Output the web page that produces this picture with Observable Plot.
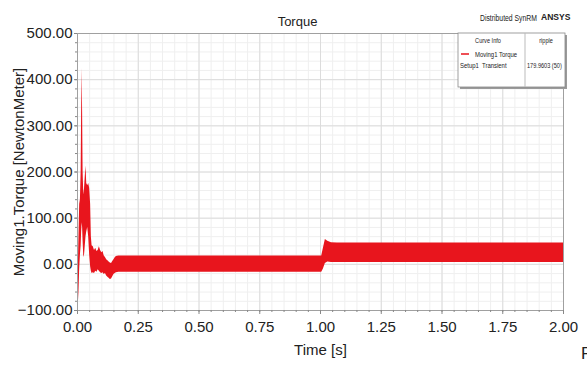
<!DOCTYPE html>
<html>
<head>
<meta charset="utf-8">
<script src="https://cdn.jsdelivr.net/npm/d3@7"></script>
<script src="https://cdn.jsdelivr.net/npm/@observablehq/plot@0.6"></script>
<style>
  body { margin: 0; background: #fff; }
  #wrap { position: relative; width: 587px; height: 365px; overflow: hidden; }
</style>
</head>
<body>
<div id="wrap"></div>
<script>
// Torque envelope (lower / upper edge of the ripple band) over time
const time = [0, 0.003, 0.006, 0.009, 0.012, 0.015, 0.017, 0.019, 0.021, 0.023,
  0.026, 0.029, 0.032, 0.035, 0.038, 0.042, 0.046, 0.050, 0.054, 0.057,
  0.060, 0.065, 0.070, 0.075, 0.080, 0.085, 0.090, 0.095, 0.100, 0.105,
  0.110, 0.115, 0.120, 0.125, 0.130, 0.135, 0.140, 0.145, 0.150, 0.155,
  0.160, 0.170, 0.180, 0.250, 0.500, 0.750, 0.990, 1.005, 1.012, 1.020,
  1.030, 1.045, 1.070, 1.250, 1.500, 1.750, 2.000];
const torqueMin = [-88, -90, -60, -10, 20, 40, 70, 90, 80, 50,
  15, 20, 40, 60, 70, 80, 60, 20, -5, -15,
  -20, -18, -20, -15, -17, -12, -15, -18, -20, -18,
  -22, -20, -25, -28, -30, -33, -32, -27, -22, -20,
  -18, -17, -17, -17, -17, -17, -17, -17, -10, 2,
  5, 4, 4, 4, 4, 4, 4];
const torqueMax = [-70, -20, 60, 130, 140, 200, 330, 424, 330, 200,
  150, 165, 190, 213, 175, 170, 175, 165, 130, 60,
  40, 38, 30, 35, 28, 30, 38, 30, 25, 28,
  18, 15, 10, 8, 5, 3, 2, 6, 10, 14,
  17, 18, 18, 18, 18, 18, 18, 18, 35, 54,
  50, 47, 46, 46, 46, 46, 46];

const xTicks = [0, 0.25, 0.5, 0.75, 1, 1.25, 1.5, 1.75, 2];
const yTicks = [-100, 0, 100, 200, 300, 400, 500];
const xMinor = d3.range(0, 2.0001, 0.05);
const yMinor = d3.range(-100, 500.001, 20);

const title = "Torque";
const xTitle = "Time [s]";
const yTitle = "Moving1.Torque [NewtonMeter]";
const legendHeader = ["Curve Info", "ripple"];
const seriesName = "Moving1 Torque";
const setupName = "Setup1  Transient";
const rippleValue = "179.9603 (50)";

const red = "#e8151d";
const font = "'Liberation Sans', Arial, sans-serif";

const rows = time.map((t, i) => ({t, lo: torqueMin[i], hi: torqueMax[i]}));

const chart = Plot.plot({
  width: 587,
  height: 365,
  marginLeft: 77,
  marginRight: 24,
  marginTop: 33,
  marginBottom: 55,
  style: {fontFamily: font, fontSize: "15px", color: "#222", background: "#fff"},
  x: {domain: [0, 2]},
  y: {domain: [-100, 500]},
  marks: [
    Plot.gridX(xMinor, {stroke: "#efefef", strokeOpacity: 1}),
    Plot.gridY(yMinor, {stroke: "#efefef", strokeOpacity: 1}),
    Plot.gridX(xTicks, {stroke: "#dcdcdc", strokeOpacity: 1}),
    Plot.gridY(yTicks, {stroke: "#dcdcdc", strokeOpacity: 1}),
    Plot.areaY(rows, {x: "t", y1: "lo", y2: "hi", fill: red, curve: "linear"}),
    Plot.frame({stroke: "#a0a0a0"}),
    Plot.axisX(xMinor, {tickSize: 2, stroke: "#888", tickFormat: () => "", label: null}),
    Plot.axisY(yMinor, {tickSize: 2, stroke: "#888", tickFormat: () => "", label: null}),
    Plot.axisX(xTicks, {tickSize: 4, tickPadding: 7, stroke: "#888", tickFormat: d3.format(".2f"), label: null, fill: "#222"}),
    Plot.axisY(yTicks, {tickSize: 3, tickPadding: 2, stroke: "#888", tickFormat: d3.format(".2f"), label: null, fill: "#222"}),
    Plot.text([xTitle], {frameAnchor: "bottom", dy: 44, fontSize: 15, fill: "#222"}),
    Plot.text([yTitle], {frameAnchor: "left", textAnchor: "middle", dx: -58, rotate: -90, fontSize: 15, fill: "#222"}),
    Plot.text([title], {frameAnchor: "top", dx: -23, dy: -17, fontSize: 13, fill: "#222"})
  ]
});

document.getElementById("wrap").appendChild(chart);

// Header annotations and the curve-info table drawn on top of the plot
const svg = d3.select(chart);
const g = svg.append("g")
  .attr("font-family", font)
  .attr("fill", "#222")
  .attr("text-anchor", "start");

// condensed text: horizontally squeezed by sx
function label(txt, x, y, size, sx = 1, opts = {}) {
  const t = g.append("text")
    .attr("transform", `translate(${x},${y}) scale(${sx},1)`)
    .attr("font-size", size)
    .attr("text-anchor", opts.anchor || "start")
    .text(txt);
  if (opts.weight) t.attr("font-weight", opts.weight);
  return t;
}

label("Distributed SynRM", 480, 21, 9.5, 0.72);
label("ANSYS", 541, 20, 9, 0.95, {weight: "bold"});

// curve-info box with drop shadow
g.append("rect").attr("x", 460).attr("y", 35).attr("width", 107).attr("height", 54).attr("fill", "#9a9a9a");
g.append("rect").attr("x", 458).attr("y", 33).attr("width", 107).attr("height", 54)
  .attr("fill", "#fff").attr("stroke", "#888").attr("stroke-width", 0.8);
g.append("line").attr("x1", 525).attr("x2", 525).attr("y1", 33).attr("y2", 87).attr("stroke", "#bbb");
label(legendHeader[0], 488, 43, 7, 0.8, {anchor: "middle"});
label(legendHeader[1], 546, 43, 7, 0.8, {anchor: "middle"});
g.append("line").attr("x1", 461).attr("x2", 469).attr("y1", 54).attr("y2", 54).attr("stroke", red).attr("stroke-width", 1.5);
label(seriesName, 475, 57, 7, 0.85);
label(setupName, 460, 68, 7, 0.85);
label(rippleValue, 527, 68, 7, 0.8);

label("F", 581, 359, 17);
</script>
</body>
</html>
